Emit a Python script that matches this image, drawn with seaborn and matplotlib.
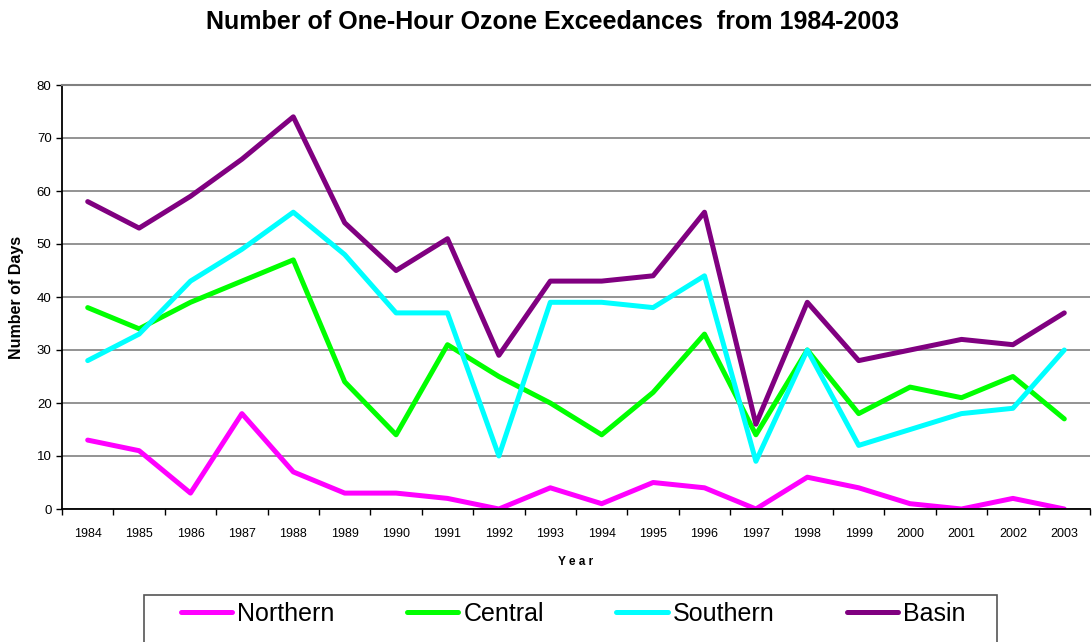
import numpy as np
import pandas as pd
import matplotlib
matplotlib.use("Agg")
import matplotlib.pyplot as plt
import matplotlib.ticker as mticker
from matplotlib.patches import Rectangle
import seaborn as sns

# Dados (leitura do gráfico)
years = [str(y) for y in range(1984, 2004)]
northern = [13, 11, 3, 18, 7, 3, 3, 2, 0, 4, 1, 5, 4, 0, 6, 4, 1, 0, 2, 0]
central  = [38, 34, 39, 43, 47, 24, 14, 31, 25, 20, 14, 22, 33, 14, 30, 18, 23, 21, 25, 17]
southern = [28, 33, 43, 49, 56, 48, 37, 37, 10, 39, 39, 38, 44, 9, 30, 12, 15, 18, 19, 30]
basin    = [58, 53, 59, 66, 74, 54, 45, 51, 29, 43, 43, 44, 56, 16, 39, 28, 30, 32, 31, 37]

series = ["Northern", "Central", "Southern", "Basin"]
colors = ["#FF00FF", "#00FF00", "#00FFFF", "#800080"]

df = pd.DataFrame({
    "Year": years * 4,
    "Days": northern + central + southern + basin,
    "Region": sum([[s] * len(years) for s in series], []),
})

sns.set_theme(style="white", rc={
    "text.color": "black",
    "axes.labelcolor": "black",
    "xtick.color": "black",
    "ytick.color": "black",
})
plt.rcParams["font.family"] = ["Liberation Sans", "DejaVu Sans"]

fig = plt.figure(figsize=(10.92, 6.42), dpi=100)
ax = fig.add_axes([62 / 1092, 1 - 509 / 642, (1090 - 62) / 1092, (509 - 85) / 642])

sns.lineplot(data=df, x="Year", y="Days", hue="Region", hue_order=series,
             palette=colors, linewidth=3.6, ax=ax, legend=False, sort=False)

ax.set_xlim(-0.5, len(years) - 0.5)
ax.set_ylim(0, 80)
ax.yaxis.set_major_locator(mticker.MultipleLocator(10))
ax.grid(axis="y", color="#808080", linewidth=1.2)
ax.set_axisbelow(True)

# Ticks nas fronteiras das categorias, como no original
ax.set_xticks(range(len(years)))
ax.set_xticklabels(years)
ax.xaxis.set_minor_locator(mticker.FixedLocator(np.arange(-0.5, len(years), 1)))
ax.tick_params(axis="x", which="major", length=0, labelsize=9, pad=13.5)
ax.tick_params(axis="x", which="minor", length=4, width=1, color="black", bottom=True)
ax.tick_params(axis="y", length=4, width=1, color="black", left=True, labelsize=9.5)

for side in ["left", "bottom"]:
    ax.spines[side].set_color("black")
    ax.spines[side].set_linewidth(1.3)
ax.spines["right"].set_visible(False)
ax.spines["top"].set_color("#808080")
ax.spines["top"].set_linewidth(1.5)

ax.set_xlabel("Y e a r", fontsize=8.5, fontweight="bold", labelpad=12)
ax.set_ylabel("Number of Days", fontsize=11.5, fontweight="bold", labelpad=9)

fig.text(552 / 1092, 1 - 22 / 642, "Number of One-Hour Ozone Exceedances  from 1984-2003",
         ha="center", va="center", fontsize=18, fontweight="bold")

# Caixa da legenda (cortada na borda inferior, como no original)
fig.patches.append(Rectangle((144 / 1092, -0.05), (997 - 144) / 1092, 0.05 + 1 - 595 / 642,
                             transform=fig.transFigure, fill=False,
                             edgecolor="#555555", linewidth=1.2))

handles = [plt.Line2D([], [], color=c, linewidth=3.6, solid_capstyle="round") for c in colors]
leg = fig.legend(handles, series, loc="center left", bbox_to_anchor=(181 / 1092, 1 - 614 / 642),
                 ncol=4, frameon=False, borderpad=0, borderaxespad=0,
                 handlelength=2.05, handletextpad=0.2, columnspacing=2.9,
                 prop={"family": ["Liberation Sans Narrow", "Liberation Sans"], "size": 18})

fig.savefig("out.png", dpi=100)
